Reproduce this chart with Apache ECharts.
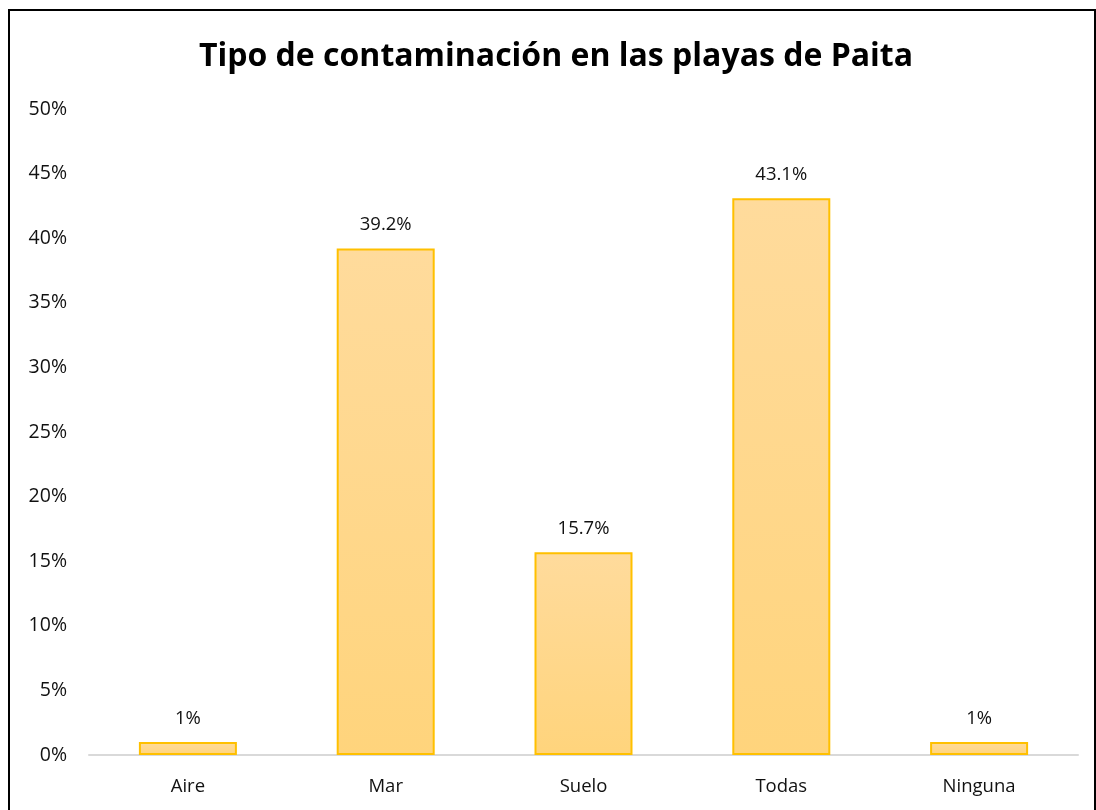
<!DOCTYPE html>
<html>
<head>
<meta charset="utf-8">
<script src="https://cdn.jsdelivr.net/npm/echarts@6/dist/echarts.min.js"></script>
<style>
html,body{margin:0;padding:0;background:#fff;}
#c{width:1096px;height:810px;}
</style>
</head>
<body>
<div id="c"></div>
<script>
const categories = ['Aire', 'Mar', 'Suelo', 'Todas', 'Ninguna'];
const values = [1, 39.2, 15.7, 43.1, 1];
const valueLabels = ['1%', '39.2%', '15.7%', '43.1%', '1%'];
const titleText = 'Tipo de contaminación en las playas de Paita';

const chart = echarts.init(document.getElementById('c'));
const font = '"Open Sans", "Liberation Sans", sans-serif';
chart.setOption({
  backgroundColor: '#ffffff',
  animation: false,
  title: {
    text: titleText,
    left: 551,
    textAlign: 'center',
    top: 36,
    textStyle: { fontFamily: font, fontSize: 32, fontWeight: 'bold', color: '#000' }
  },
  graphic: [{
    type: 'rect',
    shape: { x: 9, y: 10, width: 1086, height: 810 },
    style: { fill: 'none', stroke: '#000', lineWidth: 2 },
    silent: true
  }],
  grid: { left: 89, right: 18, top: 109, bottom: 55, containLabel: false },
  xAxis: {
    type: 'category',
    data: categories,
    axisLine: { lineStyle: { color: '#d9d9d9', width: 2 } },
    axisTick: { show: false },
    axisLabel: { fontFamily: font, fontSize: 18.5, color: '#111', margin: 22 }
  },
  yAxis: {
    type: 'value',
    min: 0, max: 50, interval: 5,
    splitLine: { show: false },
    axisLine: { show: false },
    axisTick: { show: false },
    axisLabel: { fontFamily: font, fontSize: 19.5, color: '#111', margin: 22, formatter: v => v + '%' }
  },
  series: [{
    type: 'bar',
    data: values,
    barWidth: 98,
    itemStyle: {
      color: new echarts.graphic.LinearGradient(0, 0, 0, 1, [
        { offset: 0, color: '#FFDB9C' },
        { offset: 1, color: '#FFD47C' }
      ]),
      borderColor: '#FFC000',
      borderWidth: 2
    },
    label: {
      show: true,
      position: 'top',
      distance: 14,
      fontFamily: font,
      fontSize: 18.5,
      color: '#111',
      formatter: p => valueLabels[p.dataIndex]
    }
  }]
});
</script>
</body>
</html>
